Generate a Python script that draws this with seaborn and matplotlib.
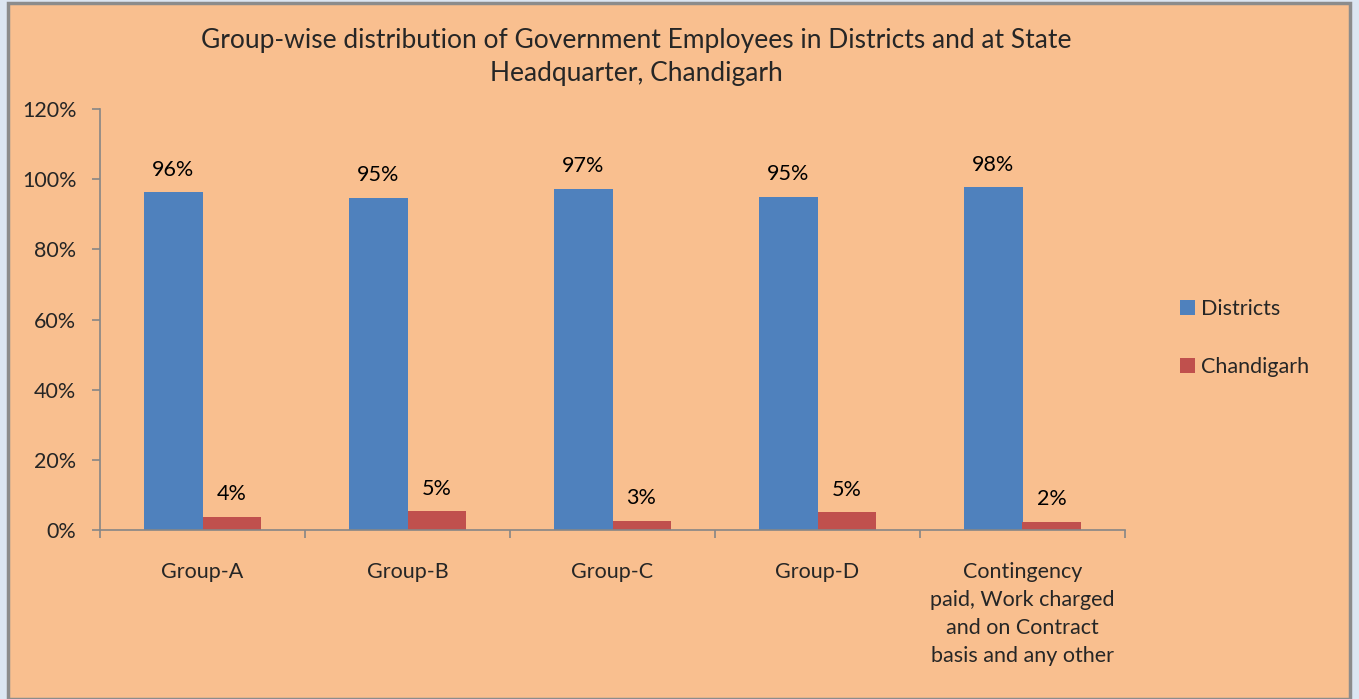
import matplotlib
matplotlib.use("Agg")
import matplotlib.pyplot as plt
from matplotlib.patches import Rectangle
import seaborn as sns
import pandas as pd

categories = ["Group-A", "Group-B", "Group-C", "Group-D",
              "Contingency\npaid, Work charged\nand on Contract\nbasis and any other"]
districts = [96.2, 94.7, 97.3, 95.0, 97.7]
chandigarh = [3.8, 5.3, 2.7, 5.0, 2.3]
series_names = ["Districts", "Chandigarh"]
colors = ["#4F81BD", "#C0504D"]
yticks = [0, 20, 40, 60, 80, 100, 120]

df = pd.DataFrame({
    "cat": categories * 2,
    "val": districts + chandigarh,
    "series": [series_names[0]] * len(categories) + [series_names[1]] * len(categories),
})

sns.set_theme(style="white")
plt.rcParams['font.family'] = ['Lato', 'DejaVu Sans']

FS = 15.5
PEACH = "#F9BF8F"
fig = plt.figure(figsize=(13.59, 6.99), dpi=100)
fig.patch.set_facecolor("#DCE6F2")
W, H = 1359, 699
fig.patches.append(Rectangle((8 / W, 0), (1350 - 8) / W, (699 - 10) / H + 0.01,
                             transform=fig.transFigure, facecolor=PEACH,
                             edgecolor="#8C8C8C", linewidth=2.5, zorder=-5))

ax = fig.add_axes([100 / W, (699 - 530) / H, (1125 - 100) / W, (530 - 109) / H])
ax.set_zorder(2)
ax.set_facecolor("none")

sns.barplot(data=df, x="cat", y="val", hue="series", palette=colors,
            width=0.566, ax=ax, saturation=1, legend=True, edgecolor="none")

for cont in ax.containers:
    labels = [f"{round(v.get_height())}%" for v in cont]
    ax.bar_label(cont, labels=labels, padding=9, fontsize=FS, color="black")

ax.set_ylim(0, 120)
ax.set_yticks(yticks)
ax.set_yticklabels([f"{t}%" for t in yticks], fontsize=FS)
ax.set_xlim(-0.5, len(categories) - 0.5)
ax.set_xticks(range(len(categories)))
ax.set_xticklabels(categories, fontsize=FS, linespacing=1.5, va="top")
ax.set_xticks([i - 0.5 for i in range(len(categories) + 1)], minor=True)
ax.tick_params(axis="x", which="major", length=0, pad=23)
ax.tick_params(axis="x", which="minor", length=6, color="#868686", width=1.2, direction="out", bottom=True)
ax.tick_params(axis="y", length=6, color="#868686", width=1.2, direction="out", left=True, pad=11)
ax.set_xlabel("")
ax.set_ylabel("")
for s in ["top", "right"]:
    ax.spines[s].set_visible(False)
for s in ["left", "bottom"]:
    ax.spines[s].set_color("#868686")
    ax.spines[s].set_linewidth(1.2)

handles, labels = ax.get_legend_handles_labels()
ax.get_legend().remove()
fig.legend(handles, labels, loc="center left", bbox_to_anchor=(1161 / W, 1 - 338 / H),
           frameon=False, fontsize=FS, handlelength=0.7, handleheight=0.7,
           handletextpad=0.25, labelspacing=1.8)

fig.text(636 / W, 1 - 57 / H,
         "Group-wise distribution of Government Employees in Districts and at State\nHeadquarter, Chandigarh",
         ha="center", va="center", fontsize=19, linespacing=1.4)

fig.savefig("out.png", dpi=100, facecolor=fig.get_facecolor())
